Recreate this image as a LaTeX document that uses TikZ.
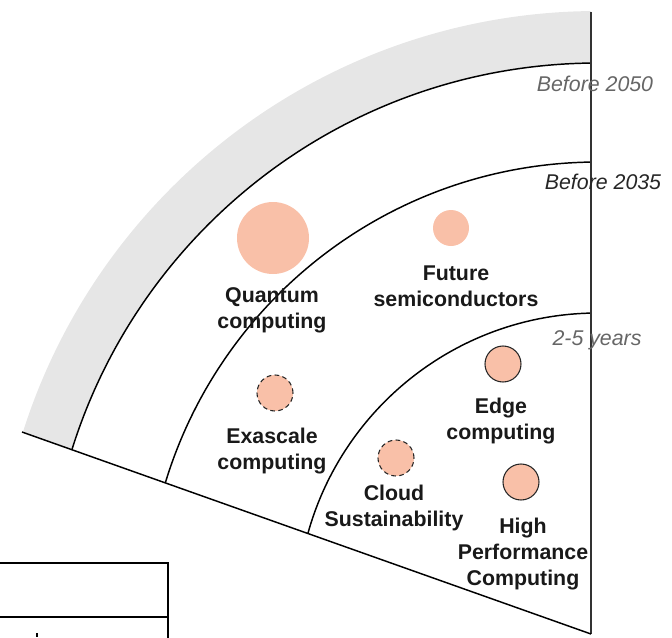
\documentclass[tikz,border=0pt]{standalone}
\usepackage{fontspec}
\setmainfont{Liberation Sans}
\definecolor{peach}{RGB}{249,192,168}
\definecolor{band}{RGB}{230,230,230}

\begin{document}
\begin{tikzpicture}[x=0.75pt,y=-0.75pt,
		techdot/.style={circle, fill=peach, inner sep=0pt, minimum size=27pt},
		soon/.style={techdot, draw=black!85, line width=0.8pt},
		unsure/.style={soon, dash pattern=on 3.5pt off 2.5pt},
		techlabel/.style={align=center, text=black!90, font=\bfseries\fontsize{16}{19.5}\selectfont},
		horizon/.style={inner sep=0pt, text=black!60, font=\itshape\fontsize{16}{19.5}\selectfont}]
		%%%%% START %%%%%
		
		\useasboundingbox (0,0) rectangle (672,637);
		
		\coordinate (ctr) at (598,614);
		\coordinate (apex) at (591,634);
		\coordinate (top) at (591,12);
		\coordinate (left) at (22,432);
		
		\begin{scope}
			\clip (591,634) -- (591,0) -- (0,0) -- (0,424.2) -- cycle;
			\fill[band, even odd rule] (ctr) circle (603) (ctr) circle (551);
			\draw[line width=1.1pt] (ctr) circle (551);
			\draw[line width=1.1pt] (ctr) circle (452);
			\draw[line width=1.1pt] (ctr) circle (301);
		\end{scope}
		
		\draw[line width=1.3pt, color=black!80] (apex) -- (top);
		\draw[line width=1.1pt] (left) -- (apex);
		
		\node[techdot, minimum size=54pt] (quantum) at (273,238) {};
		\node[techdot] (semi) at (451,228) {};
		\node[unsure] (exa) at (275,393) {};
		\node[unsure] (cloud) at (396,458) {};
		\node[soon] (edge) at (503,364) {};
		\node[soon] (hpc) at (521,482) {};
		
		\node[techlabel] (quantumtxt) at (272,310) {Quantum\\computing};
		\node[techlabel] (semitxt) at (456,286) {Future\\semiconductors};
		\node[techlabel] (exatxt) at (272,451) {Exascale\\computing};
		\node[techlabel] (edgetxt) at (501,421) {Edge\\computing};
		\node[techlabel] (cloudtxt) at (394,508) {Cloud\\Sustainability};
		\node[techlabel] (hpctxt) at (523,554) {High\\Performance\\Computing};
		
		\node[horizon] (h2050) at (595,84) {Before 2050};
		\node[horizon, text=black!85] (h2035) at (603,182) {Before 2035};
		\node[horizon] (h25) at (597,340) {2-5 years};
		
		% table cut off at the page edge
		\draw[line width=1.3pt] (0,563) -- (168,563) -- (168,640);
		\draw[line width=1.3pt] (0,617) -- (168,617);
		\fill (36,633) rectangle (38,637);
		
		%%%%% END %%%%%
\end{tikzpicture}
\end{document}
